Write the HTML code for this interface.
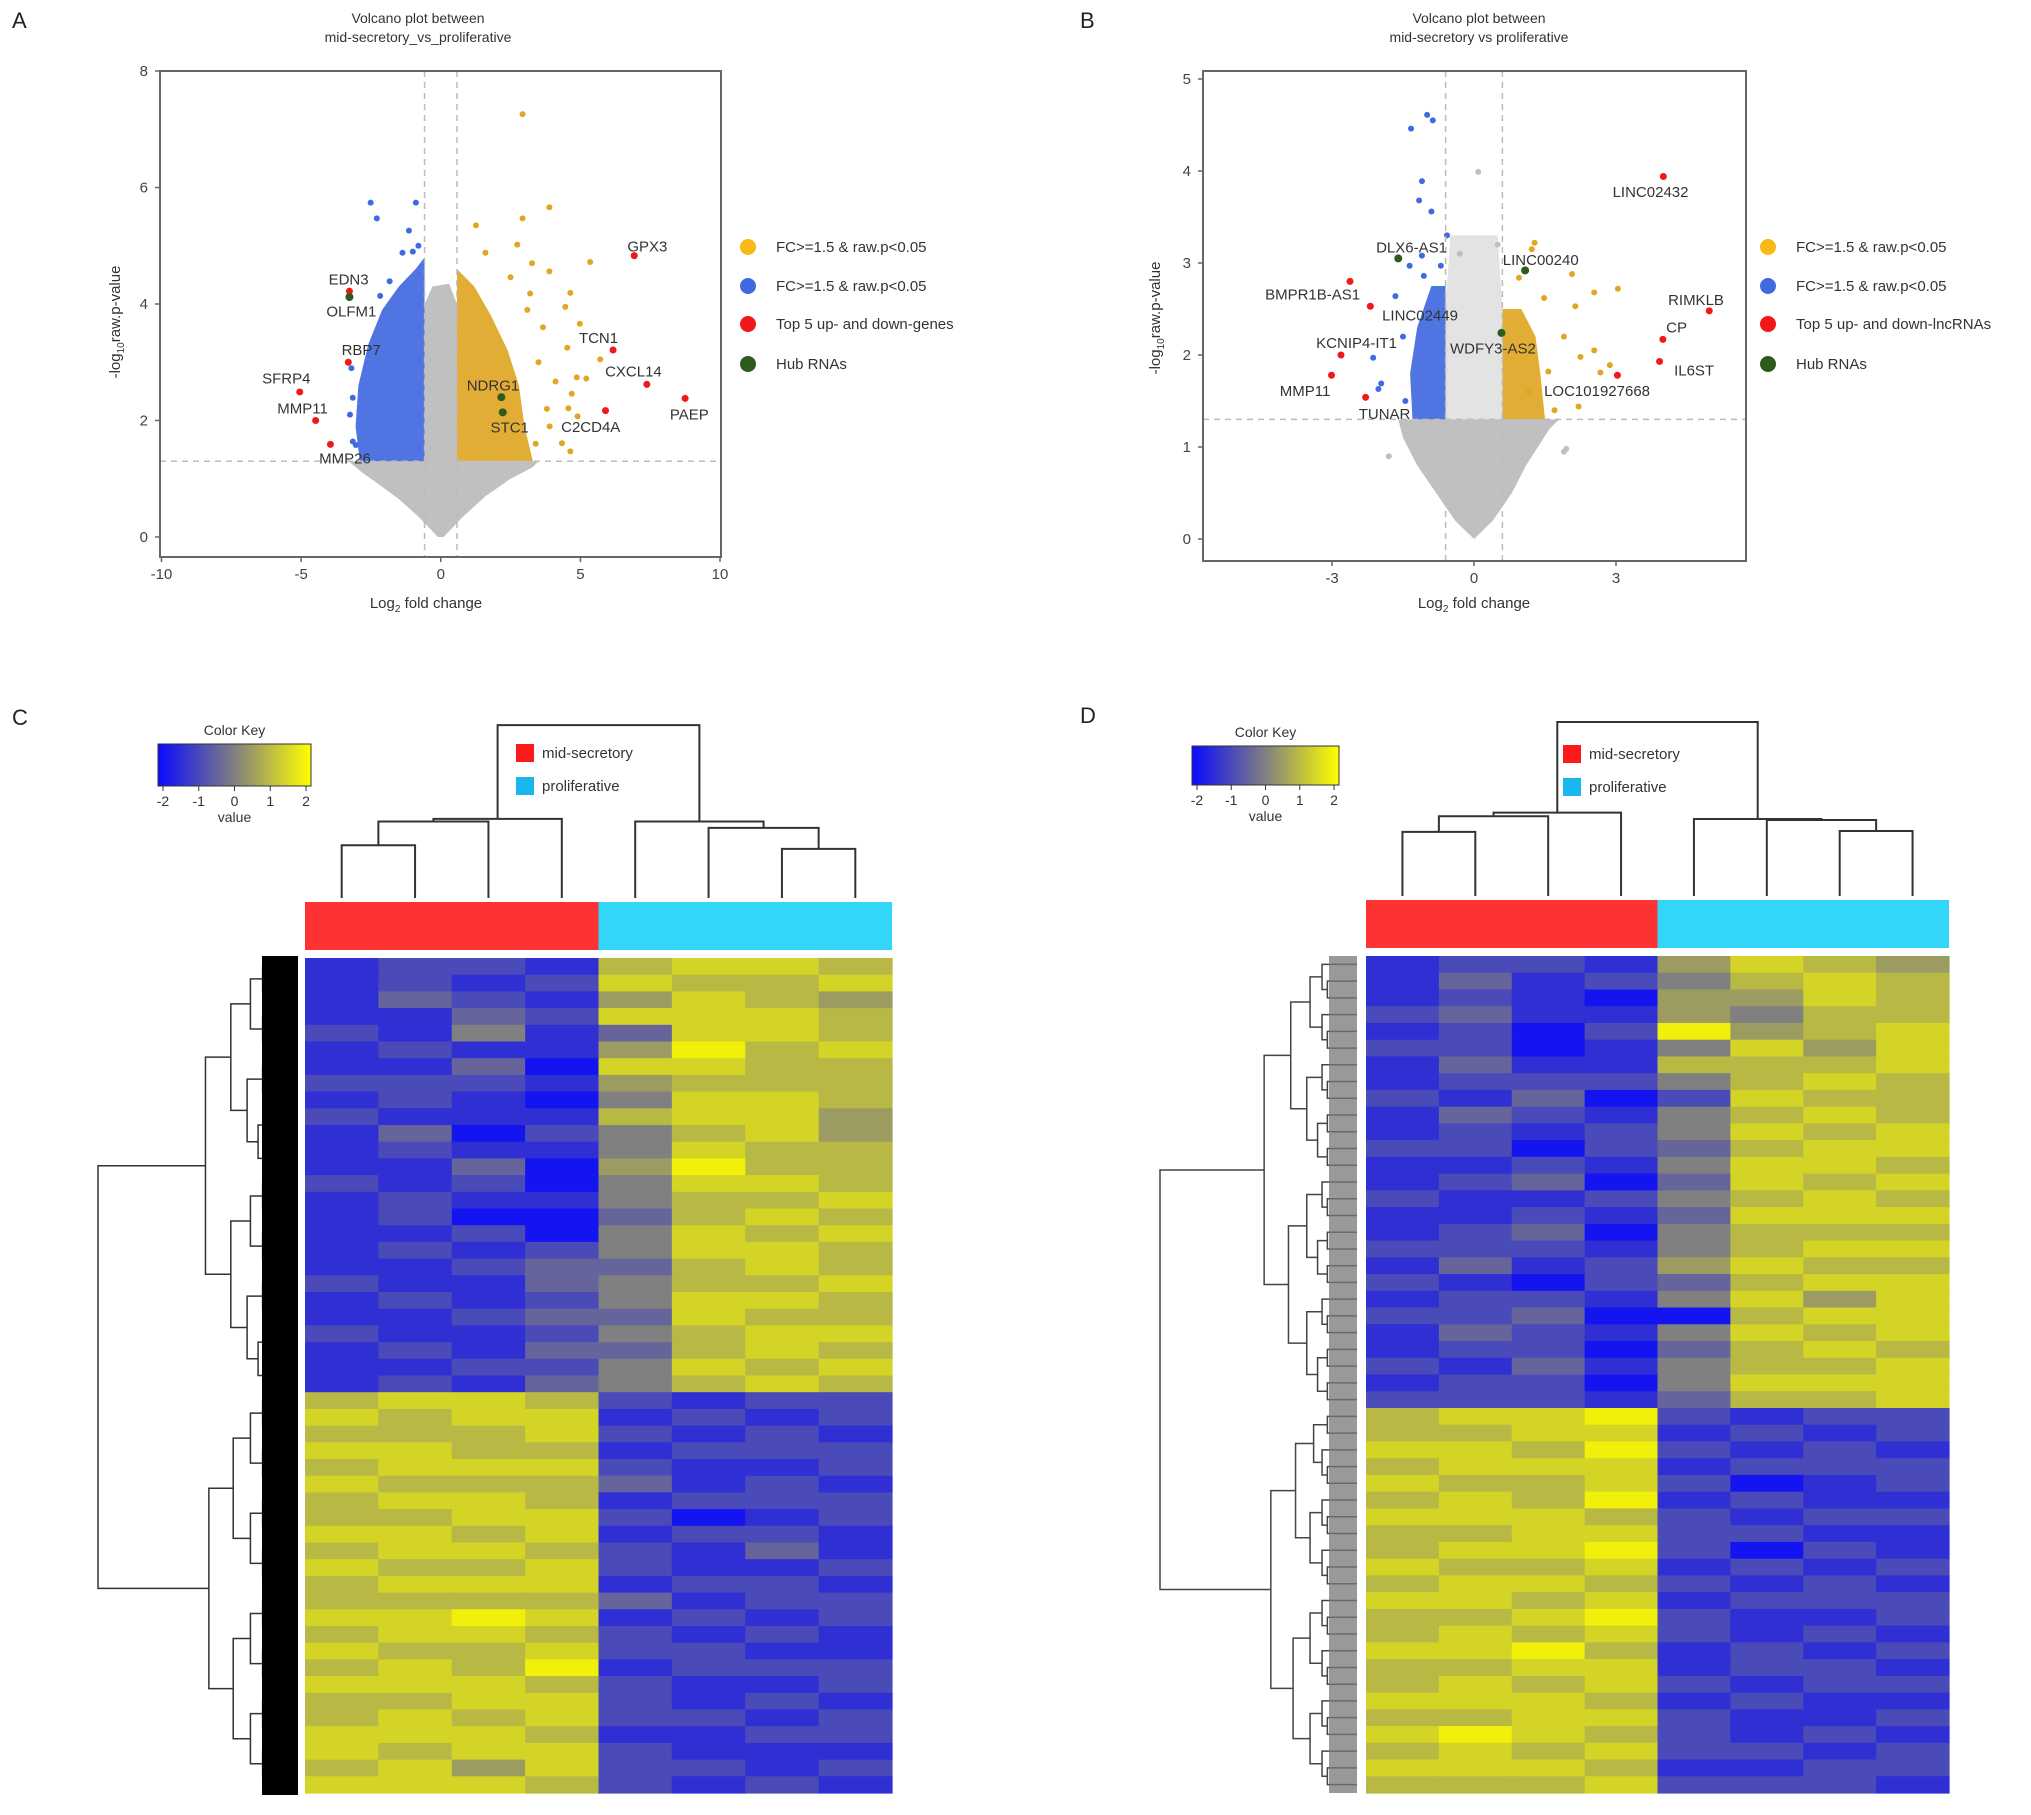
<!DOCTYPE html>
<html><head><meta charset="utf-8"><style>
html,body{margin:0;padding:0;background:#fff}
svg{display:block;font-family:"Liberation Sans",Arial,sans-serif}
</style></head><body>
<svg id="fig" width="2031" height="1815" viewBox="0 0 2031 1815" xmlns="http://www.w3.org/2000/svg"></svg>
<script>
// ===== Volcano A data =====
const aGreyCloud = [[-0.1,0],[0.1,0],[0.8,0.35],[1.6,0.7],[2.5,1.0],[3.3,1.2],[3.5,1.3],[0.58,1.3],[0.58,4.0],[0.3,4.35],[-0.3,4.3],[-0.58,4.0],[-0.58,1.3],[-3.3,1.3],[-2.8,1.1],[-2.2,0.9],[-1.5,0.65],[-0.8,0.35]];
const aBlueCloud = [[-0.58,1.3],[-2.9,1.3],[-3.05,1.9],[-2.95,2.6],[-2.6,3.3],[-2.1,3.9],[-1.5,4.3],[-0.9,4.6],[-0.58,4.8]];
const aYellowCloud = [[0.58,1.3],[3.3,1.3],[3.0,1.9],[2.8,2.6],[2.4,3.2],[1.8,3.8],[1.2,4.3],[0.58,4.6]];
const aYellowPts = [[2.93,7.26],[3.89,5.66],[2.93,5.47],[1.26,5.35],[2.74,5.02],[5.35,4.72],[3.27,4.7],[3.89,4.56],[4.64,4.19],[4.46,3.95],[4.98,3.66],[4.53,3.25],[5.71,3.05],[5.21,2.72],[4.87,2.74],[4.69,2.46],[4.57,2.21],[4.34,1.61],[4.64,1.47],[3.66,3.6],[4.11,2.67],[4.9,2.07],[1.6,4.88],[2.5,4.46],[3.2,4.18],[3.5,3.0],[3.8,2.2],[3.4,1.6],[3.9,1.9],[3.1,3.9]];
const aBluePts = [[-2.51,5.74],[-0.89,5.74],[-2.29,5.47],[-1.14,5.26],[-0.8,5.0],[-1.37,4.88],[-3.15,2.39],[-3.15,1.64],[-3.04,1.58],[-1.83,4.39],[-2.17,4.14],[-1.0,4.9],[-3.2,2.9],[-3.25,2.1]];
const aRedPts = [[6.93,4.83],[-3.27,4.22],[-3.31,3.0],[-5.05,2.49],[-4.48,2.0],[-3.95,1.59],[6.17,3.21],[7.38,2.62],[8.75,2.38],[5.9,2.17]];
const aGreenPts = [[-3.27,4.12],[2.17,2.4],[2.22,2.14]];
const aLabels = ["GPX3","EDN3","OLFM1","RBP7","SFRP4","MMP11","MMP26","TCN1","CXCL14","PAEP","C2CD4A","NDRG1","STC1"];
const aLabelPos = [[7.4,4.99],[-3.3,4.42],[-3.2,3.87],[-2.85,3.21],[-5.53,2.72],[-4.95,2.21],[-3.43,1.35],[5.65,3.42],[6.9,2.84],[8.9,2.1],[5.37,1.89],[1.87,2.6],[2.47,1.88]];
const aXTicks = [-10,-5,0,5,10];
const aYTicks = [0,2,4,6,8];
const aLegend = ["FC>=1.5 & raw.p<0.05","FC>=1.5 & raw.p<0.05","Top 5 up- and down-genes","Hub RNAs"];

// ===== Volcano B data =====
const bGreyCloud = [[0,0],[0.4,0.2],[0.8,0.5],[1.1,0.8],[1.35,1.0],[1.6,1.2],[1.8,1.3],[-1.6,1.3],[-1.5,1.1],[-1.2,0.8],[-0.8,0.5],[-0.4,0.2]];
const bGreyUpper = [[-0.6,1.3],[0.6,1.3],[0.6,2.5],[0.5,3.3],[0.1,3.3],[-0.5,3.3],[-0.6,2.5]];
const bBlueCloud = [[-0.6,1.3],[-1.3,1.3],[-1.35,1.8],[-1.2,2.3],[-0.9,2.75],[-0.6,2.75]];
const bYellowCloud = [[0.6,1.3],[1.5,1.3],[1.4,1.8],[1.3,2.2],[1.0,2.5],[0.6,2.5]];
const bBluePts = [[-0.99,4.61],[-0.87,4.55],[-1.33,4.46],[-1.1,3.89],[-1.16,3.68],[-0.9,3.56],[-0.57,3.3],[-1.1,3.08],[-1.36,2.97],[-0.7,2.97],[-1.06,2.86],[-1.66,2.64],[-2.13,1.97],[-1.96,1.69],[-2.02,1.63],[-1.45,1.5],[-1.5,2.2]];
const bYellowPts = [[1.28,3.22],[1.22,3.15],[2.07,2.88],[3.04,2.72],[2.54,2.68],[2.14,2.53],[1.48,2.62],[2.54,2.05],[2.25,1.98],[2.87,1.89],[2.67,1.81],[2.21,1.44],[1.57,1.82],[1.15,1.6],[0.95,2.84],[1.7,1.4],[1.9,2.2]];
const bGreyPts = [[0.09,3.99],[-0.3,3.1],[0.5,3.2],[1.9,0.95],[1.95,0.98],[-1.8,0.9]];
const bRedPts = [[4.0,3.94],[4.97,2.48],[3.99,2.17],[3.92,1.93],[3.03,1.78],[-2.62,2.8],[-2.19,2.53],[-2.81,2.0],[-3.01,1.78],[-2.29,1.54]];
const bGreenPts = [[-1.6,3.05],[1.08,2.92],[0.58,2.24]];
const bLabels = ["LINC02432","RIMKLB","CP","IL6ST","LOC101927668","DLX6-AS1","LINC00240","WDFY3-AS2","BMPR1B-AS1","LINC02449","KCNIP4-IT1","MMP11","TUNAR"];
const bLabelPos = [[3.73,3.77],[4.69,2.6],[4.28,2.3],[4.65,1.83],[2.6,1.61],[-1.32,3.17],[1.41,3.03],[0.4,2.07],[-3.41,2.66],[-1.14,2.43],[-2.48,2.13],[-3.57,1.61],[-1.89,1.36]];
const bXTicks = [-3,0,3];
const bYTicks = [0,1,2,3,4,5];
const bLegend = ["FC>=1.5 & raw.p<0.05","FC>=1.5 & raw.p<0.05","Top 5 up- and down-lncRNAs","Hub RNAs"];

// ===== Heatmap C data (chars 0..8 => -2..2) =====
const cRows = ["12216776","12127667","13215765","11327776","21413776","12115867","11307766","22215666","12104776","21116775","13024675","12114766","11305866","21204776","12114667","12003676","11204767","12124776","11233676","21134667","12124776","11233766","21124677","12133676","11224767","12134676",
"67762122","76771212","66672121","77661222","67772112","76663121","67761222","66772012","77671221","67762131","76672112","67771221","66663122","77871212","67762121","76672211","67681222","77762112","66772121","67672212","77761122","76772111","67572212","77762121"];
const cSplit = 26;
const cColHeightsLeft = [0.58,0.84,0.87];
const cColHeightsRight = [0.54,0.77,0.84];
const cColRoot = 1.9;

// ===== Heatmap D data =====
const dRows = ["12215765","13124676","12105576","23115466","12028567","22014757","13116667","12224676","21302766","13214676","12124767","22023677","11214776","12303767","21124676","11213777","12304666","22214677","13125766","21023677","12214757","22300677","13214767","12203676","21314667","12204777","22213667",
"67782122","66771212","77682121","67771222","76672012","67681211","77762122","66772211","67782021","76671212","67762121","77671222","66782112","67672121","77861212","66771221","67672122","77761211","66772112","78762121","67672212","77761122","66672221"];
const dSplit = 27;
const dColHeightsLeft = [0.70,0.87,0.91];
const dColHeightsRight = [0.71,0.83,0.84];
const dColRoot = 1.9;
const keyTicks = [-2,-1,0,1,2];
const groups = ["mid-secretory","proliferative"];

const svg = document.getElementById('fig');
const NS = 'http://www.w3.org/2000/svg';
function el(tag, attrs, parent, text){
  const e = document.createElementNS(NS, tag);
  for (const k in attrs) e.setAttribute(k, attrs[k]);
  if (text !== undefined) e.textContent = text;
  (parent||svg).appendChild(e);
  return e;
}
function txt(x,y,s,size,anchor,parent,name,fill){
  const t = el('text',{x:x,y:y,'font-size':size,'text-anchor':anchor||'start',fill:fill||'#333'},parent,s);
  
  
  return t;
}

const COL = {yellow:'#e0a624', yellowLeg:'#f6b915', blue:'#4169e1', grey:'#c0c0c0', red:'#f01818', green:'#2e5a1e'};

function volcano(cfg){
  const g = el('g',{});
  
  
  const sx = v => cfg.x0px + (v - cfg.x0v) * (cfg.x1px - cfg.x0px) / (cfg.x1v - cfg.x0v);
  const sy = v => cfg.y0px + (v - cfg.y0v) * (cfg.y1px - cfg.y0px) / (cfg.y1v - cfg.y0v);
  txt(cfg.titleX, 23, 'Volcano plot between', 14, 'middle', g, 'plot-title-line1');
  txt(cfg.titleX, 42, cfg.title2, 14, 'middle', g, 'plot-title-line2');
  const poly = (pts, fill, op, name) => {
    const p = el('polygon',{points: pts.map(q=>sx(q[0])+','+sy(q[1])).join(' '), fill:fill, 'fill-opacity':op}, g);
    
    
  };
  poly(cfg.grey, COL.grey, 1, 'nonsignificant-cloud');
  if (cfg.greyUpper) poly(cfg.greyUpper, COL.grey, 0.45, 'nonsignificant-upper');
  poly(cfg.blueC, COL.blue, 0.92, 'down-regulated-cloud');
  poly(cfg.yellowC, COL.yellow, 0.92, 'up-regulated-cloud');
  const dots = (pts, fill, r, name) => pts.forEach(q => {
    const c = el('circle',{cx:sx(q[0]), cy:sy(q[1]), r:r, fill:fill}, g);
    
    
  });
  if (cfg.greyPts) dots(cfg.greyPts, COL.grey, 3, 'grey-point');
  dots(cfg.blueP, COL.blue, 3, 'down-point');
  dots(cfg.yellowP, COL.yellow, 3, 'up-point');
  const dash = {stroke:'#bbb','stroke-width':1.5,'stroke-dasharray':'6,5'};
  [cfg.thr, -cfg.thr].forEach(t => {
    const l = el('line',Object.assign({x1:sx(t),x2:sx(t),y1:cfg.boxTop,y2:cfg.boxBot},dash),g);
    
    
  });
  const hl = el('line',Object.assign({x1:cfg.boxL,x2:cfg.boxR,y1:sy(1.3),y2:sy(1.3)},dash),g);
  
  
  dots(cfg.redP, COL.red, 3.5, 'top-gene-point');
  dots(cfg.greenP, COL.green, 4, 'hub-rna-point');
  cfg.labels.forEach((s,i) => txt(sx(cfg.labelPos[i][0]), sy(cfg.labelPos[i][1]) + 5, s, 15, 'middle', g, 'gene-label', '#333'));
  const b = el('rect',{x:cfg.boxL,y:cfg.boxTop,width:cfg.boxR-cfg.boxL,height:cfg.boxBot-cfg.boxTop,fill:'none',stroke:'#666','stroke-width':2},g);
  
  
  cfg.xt.forEach(v => {
    el('line',{x1:sx(v),x2:sx(v),y1:cfg.boxBot,y2:cfg.boxBot+5,stroke:'#666','stroke-width':1.5},g);
    txt(sx(v), cfg.boxBot+22, String(v), 15, 'middle', g, 'x-tick-label', '#444');
  });
  cfg.yt.forEach(v => {
    el('line',{x1:cfg.boxL,x2:cfg.boxL-5,y1:sy(v),y2:sy(v),stroke:'#666','stroke-width':1.5},g);
    txt(cfg.boxL-12, sy(v)+5, String(v), 15, 'end', g, 'y-tick-label', '#444');
  });
  const xt = el('text',{x:cfg.xLabX,y:608,'font-size':15,'text-anchor':'middle',fill:'#333'},g);
  
  
  xt.innerHTML = 'Log<tspan font-size="10" dy="4">2</tspan><tspan dy="-4"> fold change</tspan>';
  const yt = el('text',{x:0,y:0,'font-size':15,'text-anchor':'middle',fill:'#333',transform:`translate(${cfg.yLabX},${cfg.yLabY}) rotate(-90)`},g);
  
  
  yt.innerHTML = '-log<tspan font-size="10" dy="4">10</tspan><tspan dy="-4">raw.p-value</tspan>';
  const lc = [COL.yellowLeg, COL.blue, COL.red, COL.green];
  cfg.legend.forEach((s,i) => {
    const y = [247,286,324,364][i];
    const c = el('circle',{cx:cfg.legX, cy:y, r:8, fill:lc[i]}, g);
    
    
    txt(cfg.legX+28, y+5, s, 15, 'start', g, 'legend-entry', '#333');
  });
}

volcano({name:'volcano-a', title2:'mid-secretory_vs_proliferative', titleX:418,
  x0v:-10,x1v:10,x0px:161.5,x1px:720, y0v:0,y1v:8,y0px:537,y1px:71,
  boxL:160,boxR:721,boxTop:71,boxBot:557, thr:0.58,
  grey:aGreyCloud, blueC:aBlueCloud, yellowC:aYellowCloud, blueP:aBluePts, yellowP:aYellowPts, redP:aRedPts, greenP:aGreenPts,
  labels:aLabels, labelPos:aLabelPos, xt:aXTicks, yt:aYTicks, xLabX:426, yLabX:120, yLabY:322, legX:748, legend:aLegend});

volcano({name:'volcano-b', title2:'mid-secretory vs proliferative', titleX:1479,
  x0v:0,x1v:3,x0px:1474,x1px:1616, y0v:0,y1v:5,y0px:539,y1px:79,
  boxL:1203,boxR:1746,boxTop:71,boxBot:561, thr:0.6,
  grey:bGreyCloud, greyUpper:bGreyUpper, blueC:bBlueCloud, yellowC:bYellowCloud, blueP:bBluePts, yellowP:bYellowPts, greyPts:bGreyPts, redP:bRedPts, greenP:bGreenPts,
  labels:bLabels, labelPos:bLabelPos, xt:bXTicks, yt:bYTicks, xLabX:1474, yLabX:1160, yLabY:318, legX:1768, legend:bLegend});

[['A',12,28],['B',1080,28],['C',12,725],['D',1080,723]].forEach(p => txt(p[1],p[2],p[0],22,'start',svg,'panel-label-'+p[0].toLowerCase(),'#222'));

function colorOf(v){
  const t = Math.max(-2, Math.min(2, v));
  let r,g,b;
  if (t < 0){ const f = (t+2)/2; r = 20 + f*(128-20); g = 20 + f*(128-20); b = 240 + f*(128-240); }
  else { const f = t/2; r = 128 + f*(240-128); g = 128 + f*(240-128); b = 128 + f*(10-128); }
  return `rgb(${r|0},${g|0},${b|0})`;
}

function heatmap(cfg){
  const g = el('g',{});
  
  
  const n = cfg.rows.length, nc = 8;
  const cw = (cfg.x1 - cfg.x0)/nc, rh = (cfg.y1 - cfg.y0)/n;
  cfg.rows.forEach((row, i) => {
    for (let j=0;j<nc;j++){
      const v = parseInt(row[j])/2 - 2;
      const r = el('rect',{x:cfg.x0+j*cw, y:cfg.y0+i*rh, width:cw+0.6, height:rh+0.6, fill:colorOf(v)}, g);
      
      
    }
  });
  const rb = el('rect',{x:cfg.x0,y:cfg.barY0,width:cw*4,height:cfg.barY1-cfg.barY0,fill:'#fd3333'},g);
  
  
  const cb = el('rect',{x:cfg.x0+cw*4,y:cfg.barY0,width:cw*4,height:cfg.barY1-cfg.barY0,fill:'#33d6f8'},g);
  
  
  const lx = j => cfg.x0 + (j+0.5)*cw;
  const hy = h => cfg.leafY - h*cfg.hk;
  const st = {stroke:'#333','stroke-width':2,fill:'none'};
  const link = (xa,ya,xb,yb,y) => { const p = el('path',Object.assign({d:`M${xa},${ya}V${y}H${xb}V${yb}`},st),g);   };
  const L = cfg.hl, R = cfg.hr;
  link(lx(0),cfg.leafY,lx(1),cfg.leafY,hy(L[0]));
  let m1 = (lx(0)+lx(1))/2;
  link(m1,hy(L[0]),lx(2),cfg.leafY,hy(L[1]));
  let m2 = (m1+lx(2))/2;
  link(m2,hy(L[1]),lx(3),cfg.leafY,hy(L[2]));
  let mL = (m2+lx(3))/2;
  link(lx(6),cfg.leafY,lx(7),cfg.leafY,hy(R[0]));
  let n1 = (lx(6)+lx(7))/2;
  link(lx(5),cfg.leafY,n1,hy(R[0]),hy(R[1]));
  let n2 = (lx(5)+n1)/2;
  link(lx(4),cfg.leafY,n2,hy(R[1]),hy(R[2]));
  let mR = (lx(4)+n2)/2;
  link(mL,hy(L[2]),mR,hy(R[2]),hy(cfg.root));
  const span = cfg.leafX - cfg.rootX;
  function build(a,b,top){
    if (b-a===1) return {x:cfg.leafX, y:cfg.y0+(a+0.5)*rh};
    const m = top ? cfg.split : ((a+b)>>1);
    const l = build(a,m,false), r = build(m,b,false);
    const x = top ? cfg.rootX : cfg.leafX - span*0.6*Math.pow((b-a)/n, 0.5) - 6;
    const p = el('path',Object.assign({d:`M${l.x},${l.y}H${x}V${r.y}H${r.x}`},{stroke:cfg.rowStroke,'stroke-width':1.5,fill:'none'}),g);
    
    
    return {x:x, y:(l.y+r.y)/2};
  }
  build(0,n,true);
  if (cfg.blackBlock){
    const bb = el('rect',{x:cfg.blackBlock,y:cfg.y0-2,width:cfg.leafX-cfg.blackBlock,height:cfg.y1-cfg.y0+4,fill:'#000'},g);
    
    
  } else {
    const bb = el('rect',{x:cfg.leafX-28,y:cfg.y0,width:28,height:cfg.y1-cfg.y0,fill:'#777','fill-opacity':0.75},g);
    
    
  }
  const k = cfg.key;
  const grad = el('linearGradient',{id:cfg.name+'-grad',x1:0,x2:1,y1:0,y2:0},g);
  [[0,'#0a0aff'],[0.5,'#808080'],[1,'#ffff00']].forEach(s=>el('stop',{offset:s[0],'stop-color':s[1]},grad));
  const kr = el('rect',{x:k.x0,y:k.y0,width:k.x1-k.x0,height:k.y1-k.y0,fill:`url(#${cfg.name}-grad)`,stroke:'#333','stroke-width':1},g);
  
  
  txt((k.x0+k.x1)/2, k.y0-9, 'Color Key', 14, 'middle', g, 'color-key-title', '#333');
  keyTicks.forEach(v => {
    const x = k.x0 + 5 + (v+2)/4*(k.x1-k.x0-10);
    el('line',{x1:x,x2:x,y1:k.y1,y2:k.y1+5,stroke:'#333','stroke-width':1},g);
    txt(x, k.y1+20, String(v), 14, 'middle', g, 'color-key-tick', '#333');
  });
  txt((k.x0+k.x1)/2, k.y1+36, 'value', 14, 'middle', g, 'color-key-label', '#333');
  const lg = [['#fd1a1a',groups[0]],['#19b6f0',groups[1]]];
  lg.forEach((e,i) => {
    const y = cfg.legY + i*33;
    const s = el('rect',{x:cfg.legX,y:y-9,width:18,height:18,fill:e[0]},g);
    
    
    txt(cfg.legX+26, y+5, e[1], 15, 'start', g, 'group-legend-entry', '#333');
  });
}

heatmap({name:'heatmap-c', rows:cRows, split:cSplit, x0:305, x1:892, y0:958, y1:1793, barY0:902, barY1:950,
  leafY:898, hk:91, hl:cColHeightsLeft, hr:cColHeightsRight, root:cColRoot,
  rootX:98, leafX:298, rowStroke:'#333', blackBlock:262,
  key:{x0:158,x1:311,y0:744,y1:786}, legX:516, legY:753});

heatmap({name:'heatmap-d', rows:dRows, split:dSplit, x0:1366, x1:1949, y0:956, y1:1793, barY0:900, barY1:948,
  leafY:896, hk:91.6, hl:dColHeightsLeft, hr:dColHeightsRight, root:dColRoot,
  rootX:1160, leafX:1357, rowStroke:'#444', blackBlock:0,
  key:{x0:1192,x1:1339,y0:746,y1:785}, legX:1563, legY:754});
</script>
</body></html>
